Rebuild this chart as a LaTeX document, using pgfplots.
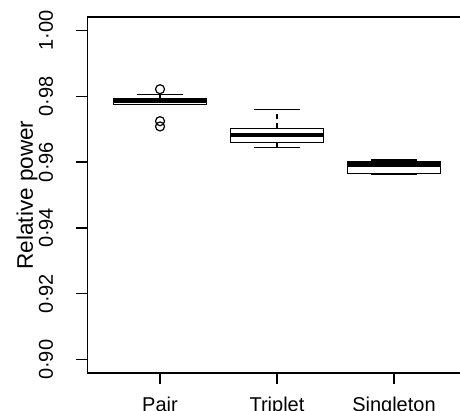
\documentclass[border=0pt]{standalone}
\usepackage{fontspec}
\setmainfont{Liberation Sans}
\usepackage{pgfplots}
\pgfplotsset{compat=1.18}
\usepgfplotslibrary{statistics}
\pgfplotsset{
  boxplot/draw/lower whisker/.code={%
    \draw[/pgfplots/boxplot/every whisker/.try, dash pattern=on 5bp off 4bp]
      (boxplot box cs:\pgfplotsboxplotvalue{lower quartile},0.5) -- (boxplot box cs:\pgfplotsboxplotvalue{lower whisker},0.5);
    \draw[/pgfplots/boxplot/every whisker/.try]
      (boxplot whisker cs:\pgfplotsboxplotvalue{lower whisker},0) -- (boxplot whisker cs:\pgfplotsboxplotvalue{lower whisker},1);
  },
  boxplot/draw/upper whisker/.code={%
    \draw[/pgfplots/boxplot/every whisker/.try, dash pattern=on 5bp off 4bp]
      (boxplot box cs:\pgfplotsboxplotvalue{upper quartile},0.5) -- (boxplot box cs:\pgfplotsboxplotvalue{upper whisker},0.5);
    \draw[/pgfplots/boxplot/every whisker/.try]
      (boxplot whisker cs:\pgfplotsboxplotvalue{upper whisker},0) -- (boxplot whisker cs:\pgfplotsboxplotvalue{upper whisker},1);
  },
}
\begin{document}
\begin{tikzpicture}[font=\fontsize{20bp}{24bp}\selectfont]
\path[use as bounding box] (-87.5bp,-38bp) rectangle (372.5bp,373bp);
\clip (-87.5bp,-38bp) rectangle (372.5bp,373bp);
\begin{axis}[
  at={(0,0)}, anchor=south west,
  scale only axis, width=379bp, height=356bp,
  xmin=0.38, xmax=3.62, ymin=0.896, ymax=1.004,
  axis line style={line width=1.2bp, black},
  xtick={1,2,3}, xticklabels={Pair,Triplet,Singleton},
  ytick={0.90,0.92,0.94,0.96,0.98,1.00},
  yticklabels={0·90,0·92,0·94,0·96,0·98,1·00},
  xtick pos=bottom, ytick pos=left,
  tick align=outside, major tick length=11bp,
  every tick/.style={black, line width=1.2bp},
  tick label style={font=\fontsize{20bp}{24bp}\selectfont},
  xticklabel style={anchor=base, inner sep=0pt, yshift=-27bp},
  yticklabel style={xshift=-23.5bp, rotate=90, anchor=base, inner sep=0pt},
  ylabel={Relative power},
  ylabel style={font=\fontsize{22.5bp}{26bp}\selectfont, at={(axis description cs:-0.1438,0.5)}, anchor=base, inner sep=0pt},
  boxplot/draw direction=y,
  boxplot/box extend=0.8,
  boxplot/whisker extend=0.4,
  boxplot/every median/.style={line width=4.3bp},
]
\addplot[black, line width=1.2bp, mark=o, mark size=4.5bp, mark options={solid, line width=1.2bp},
  boxplot prepared={draw position=1, lower whisker=0.97757, lower quartile=0.97757,
    median=0.97845, upper quartile=0.9793, upper whisker=0.9806}]
  table[row sep=\\, y index=0] {data\\ 0.9821\\ 0.9724\\ 0.9708\\};
\addplot[black, line width=1.2bp,
  boxplot prepared={draw position=2, lower whisker=0.96441, lower quartile=0.96593,
    median=0.96824, upper quartile=0.97018, upper whisker=0.97605}]
  coordinates {};
\addplot[black, line width=1.2bp,
  boxplot prepared={draw position=3, lower whisker=0.9563, lower quartile=0.95645,
    median=0.95903, upper quartile=0.96003, upper whisker=0.96064}]
  coordinates {};
\end{axis}
\end{tikzpicture}
\end{document}
